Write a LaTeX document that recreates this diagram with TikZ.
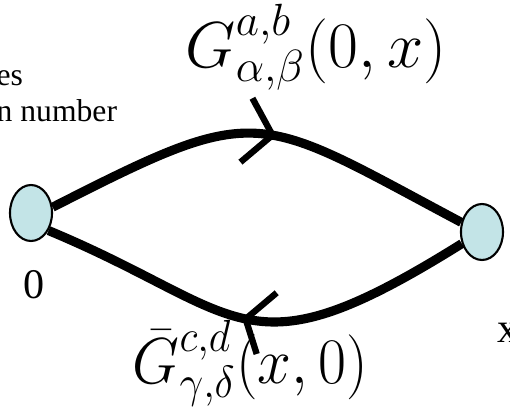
\documentclass[tikz,border=0pt]{standalone}
\usepackage{fontspec}
\newfontfamily\labelfont{Liberation Serif}
\definecolor{sitecyan}{HTML}{C3E4E7}
\usetikzlibrary{shapes.geometric,decorations.markings}
\newcommand{\greenfn}[2][1.07]{\scalebox{#1}[1.07]{$#2$}}
\tikzset{
    site/.style={
        ellipse,
        draw=black,
        fill=sitecyan,
        line width=0.6pt,
        inner sep=0pt,
        minimum width=0.42cm,
        minimum height=0.56cm
    },
    propagator/.style={
        draw=black,
        line width=2.6pt
    },
    forwardmark/.style={
        postaction={decorate},
        decoration={markings,
            mark=at position #1 with {\draw[line width=1.8pt] (-0.26,0.33) -- (0,0) -- (-0.27,-0.32);}}
    },
    backwardmark/.style={
        postaction={decorate},
        decoration={markings,
            mark=at position #1 with {\draw[line width=1.8pt] (0.25,0.32) -- (0,0) -- (0.18,-0.32);}}
    },
    pointlabel/.style={
        inner sep=0pt,
        font=\labelfont\fontsize{12}{14}\selectfont
    },
    notelabel/.style={
        inner sep=0pt,
        align=left,
        font=\labelfont\fontsize{9}{10.2}\selectfont
    },
    greenlabel/.style={
        inner sep=0pt,
        font=\LARGE
    }
}

\begin{document}
\begin{tikzpicture}
    \useasboundingbox (0,0) rectangle (5.10,4.09);

    \node[site] (origin) at (0.31,1.96) {};
    \node[site] (point) at (4.82,1.77) {};

    \node[notelabel,anchor=base west] (note) at (-0.04,2.88) {es\\n number};
    \node[pointlabel,anchor=base west] (zero) at (0.23,1.11) {0};
    \node[pointlabel,anchor=base west] (ex) at (4.97,0.67) {x};

    \node[greenlabel,anchor=base west] (forward) at (1.85,3.42)
        {\greenfn{G^{a,b}_{\alpha,\beta}(0,x)}};
    \node[greenlabel,anchor=base west] (backward) at (1.32,0.26)
        {\greenfn[1.0]{\bar{G}^{c,d}_{\gamma,\delta}(x,0)}};

    \draw[propagator,forwardmark=0.53] (origin.15)
        .. controls +(27:2.35) and +(152:2.35) .. (point.155);
    \draw[propagator,backwardmark=0.48] (origin.-45)
        .. controls +(-22.6:2.15) and +(212:2.58) .. (point.210);
\end{tikzpicture}
\end{document}
